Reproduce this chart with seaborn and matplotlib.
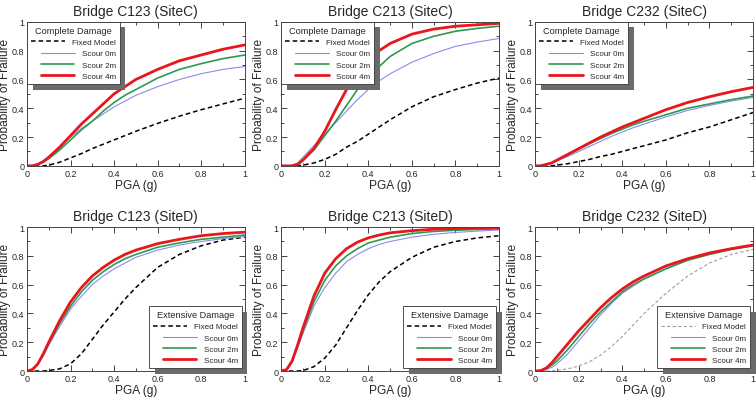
import numpy as np
import pandas as pd
import matplotlib
matplotlib.use("Agg")
import matplotlib.pyplot as plt
import matplotlib.patheffects as pe
from matplotlib.ticker import MultipleLocator, FuncFormatter
import seaborn as sns

pga = [0, 0.025, 0.05, 0.075, 0.1, 0.15, 0.2, 0.25, 0.3, 0.35, 0.4, 0.45, 0.5, 0.6, 0.7, 0.8, 0.9, 1.0]

# Bridge C123 (SiteC) - complete damage
c123_c_fixed = [0, 0, 0, 0, 0.005, 0.025, 0.055, 0.085, 0.12, 0.15, 0.18, 0.21, 0.24, 0.295, 0.345, 0.39, 0.43, 0.47]
c123_c_s0 = [0, 0, 0.015, 0.035, 0.06, 0.13, 0.2, 0.26, 0.31, 0.36, 0.41, 0.45, 0.49, 0.55, 0.60, 0.64, 0.67, 0.69]
c123_c_s2 = [0, 0, 0.01, 0.025, 0.05, 0.11, 0.18, 0.25, 0.31, 0.38, 0.44, 0.49, 0.53, 0.61, 0.67, 0.71, 0.745, 0.77]
c123_c_s4 = [0, 0, 0.01, 0.03, 0.06, 0.13, 0.21, 0.29, 0.36, 0.43, 0.50, 0.55, 0.60, 0.67, 0.73, 0.77, 0.81, 0.84]

# Bridge C213 (SiteC)
c213_c_fixed = [0, 0, 0, 0, 0.005, 0.02, 0.045, 0.08, 0.13, 0.17, 0.22, 0.27, 0.32, 0.41, 0.48, 0.53, 0.575, 0.61]
c213_c_s0 = [0, 0, 0.005, 0.02, 0.06, 0.14, 0.22, 0.30, 0.38, 0.46, 0.53, 0.59, 0.64, 0.72, 0.78, 0.83, 0.86, 0.885]
c213_c_s2 = [0, 0, 0, 0.01, 0.04, 0.11, 0.21, 0.31, 0.42, 0.53, 0.62, 0.69, 0.76, 0.85, 0.90, 0.935, 0.955, 0.97]
c213_c_s4 = [0, 0, 0, 0.01, 0.04, 0.12, 0.24, 0.39, 0.53, 0.64, 0.74, 0.80, 0.85, 0.915, 0.95, 0.97, 0.98, 0.99]

# Bridge C232 (SiteC)
c232_c_fixed = [0, 0, 0, 0, 0.005, 0.015, 0.03, 0.045, 0.065, 0.08, 0.10, 0.12, 0.14, 0.18, 0.23, 0.27, 0.32, 0.37]
c232_c_s0 = [0, 0, 0.01, 0.02, 0.035, 0.065, 0.10, 0.135, 0.17, 0.205, 0.235, 0.265, 0.29, 0.34, 0.385, 0.42, 0.45, 0.475]
c232_c_s2 = [0, 0, 0.01, 0.02, 0.04, 0.075, 0.115, 0.155, 0.19, 0.225, 0.255, 0.285, 0.31, 0.355, 0.40, 0.43, 0.46, 0.485]
c232_c_s4 = [0, 0, 0.01, 0.02, 0.04, 0.08, 0.12, 0.16, 0.2, 0.235, 0.27, 0.30, 0.33, 0.39, 0.44, 0.48, 0.515, 0.545]

# Bridge C123 (SiteD) - extensive damage
c123_d_fixed = [0, 0, 0, 0, 0.003, 0.015, 0.05, 0.12, 0.22, 0.32, 0.41, 0.50, 0.58, 0.72, 0.81, 0.87, 0.91, 0.93]
c123_d_s0 = [0, 0.01, 0.05, 0.11, 0.18, 0.31, 0.43, 0.52, 0.60, 0.66, 0.71, 0.75, 0.79, 0.84, 0.875, 0.90, 0.92, 0.935]
c123_d_s2 = [0, 0.01, 0.05, 0.11, 0.19, 0.33, 0.45, 0.55, 0.63, 0.69, 0.74, 0.78, 0.81, 0.86, 0.89, 0.915, 0.93, 0.945]
c123_d_s4 = [0, 0.01, 0.05, 0.12, 0.2, 0.35, 0.48, 0.58, 0.66, 0.72, 0.77, 0.81, 0.84, 0.885, 0.915, 0.94, 0.955, 0.965]

# Bridge C213 (SiteD)
c213_d_fixed = [0, 0, 0, 0, 0.003, 0.03, 0.09, 0.18, 0.30, 0.42, 0.53, 0.62, 0.69, 0.79, 0.86, 0.90, 0.925, 0.94]
c213_d_s0 = [0, 0.01, 0.06, 0.16, 0.26, 0.45, 0.58, 0.68, 0.76, 0.81, 0.85, 0.88, 0.90, 0.93, 0.95, 0.963, 0.972, 0.98]
c213_d_s2 = [0, 0.01, 0.07, 0.17, 0.28, 0.48, 0.63, 0.73, 0.80, 0.85, 0.89, 0.91, 0.93, 0.955, 0.97, 0.978, 0.984, 0.988]
c213_d_s4 = [0, 0.01, 0.07, 0.18, 0.30, 0.52, 0.68, 0.78, 0.85, 0.895, 0.925, 0.945, 0.96, 0.975, 0.985, 0.99, 0.993, 0.995]

# Bridge C232 (SiteD)
c232_d_fixed = [0, 0, 0, 0, 0.005, 0.015, 0.035, 0.065, 0.11, 0.17, 0.24, 0.32, 0.40, 0.54, 0.66, 0.75, 0.81, 0.845]
c232_d_s0 = [0, 0, 0.01, 0.025, 0.05, 0.12, 0.21, 0.30, 0.39, 0.47, 0.54, 0.59, 0.64, 0.71, 0.77, 0.815, 0.85, 0.88]
c232_d_s2 = [0, 0, 0.015, 0.04, 0.07, 0.15, 0.24, 0.33, 0.41, 0.48, 0.55, 0.60, 0.64, 0.71, 0.77, 0.81, 0.845, 0.87]
c232_d_s4 = [0, 0.003, 0.02, 0.055, 0.10, 0.19, 0.28, 0.36, 0.44, 0.51, 0.57, 0.62, 0.66, 0.73, 0.78, 0.82, 0.85, 0.875]

titles = ["Bridge C123 (SiteC)", "Bridge C213 (SiteC)", "Bridge C232 (SiteC)",
          "Bridge C123 (SiteD)", "Bridge C213 (SiteD)", "Bridge C232 (SiteD)"]
series_labels = ["Fixed Model", "Scour 0m", "Scour 2m", "Scour 4m"]

panels = [
    (c123_c_fixed, c123_c_s0, c123_c_s2, c123_c_s4),
    (c213_c_fixed, c213_c_s0, c213_c_s2, c213_c_s4),
    (c232_c_fixed, c232_c_s0, c232_c_s2, c232_c_s4),
    (c123_d_fixed, c123_d_s0, c123_d_s2, c123_d_s4),
    (c213_d_fixed, c213_d_s0, c213_d_s2, c213_d_s4),
    (c232_d_fixed, c232_d_s0, c232_d_s2, c232_d_s4),
]

sns.set_style("ticks")
plt.rcParams['font.family'] = ['Liberation Sans', 'DejaVu Sans']

fig = plt.figure(figsize=(7.56, 4.02), dpi=100)

lefts = [0.0357, 0.372, 0.708]
bottoms = [0.585, 0.0746]
w, h = 0.288, 0.358

styles = [
    dict(color="black", lw=1.1, ls=(0, (3, 2))),
    dict(color="#8a8af0", lw=0.8, ls="-"),
    dict(color="#2e9a4e", lw=1.2, ls="-"),
    dict(color="#e8161d", lw=2.0, ls="-"),
]

for i, (title, curves) in enumerate(zip(titles, panels)):
    row, col = divmod(i, 3)
    ax = fig.add_axes([lefts[col], bottoms[row], w, h])
    for k, (lab, vals) in enumerate(zip(series_labels, curves)):
        st = dict(styles[k])
        if i == 5 and k == 0:
            st.update(color="#a0a0a0", lw=0.8)
        df = pd.DataFrame({"PGA": pga, "P": vals})
        sns.lineplot(data=df, x="PGA", y="P", ax=ax, label=lab,
                     color=st["color"], linewidth=st["lw"], linestyle=st["ls"])
    ax.set_xlim(0, 1)
    ax.set_ylim(0, 1)
    ax.xaxis.set_major_locator(MultipleLocator(0.2))
    ax.yaxis.set_major_locator(MultipleLocator(0.2))
    ax.xaxis.set_minor_locator(MultipleLocator(0.1))
    ax.yaxis.set_minor_locator(MultipleLocator(0.1))
    fmt = FuncFormatter(lambda v, p: f"{v:g}")
    ax.xaxis.set_major_formatter(fmt)
    ax.yaxis.set_major_formatter(fmt)
    ax.tick_params(which="both", direction="in", top=True, right=True,
                   labelsize=6.5, width=0.6, pad=2)
    ax.tick_params(which="major", length=4)
    ax.tick_params(which="minor", length=2)
    for sp in ax.spines.values():
        sp.set_linewidth(0.7)
        sp.set_color("#444444")
    ax.set_title(title, fontsize=10, pad=5)
    ax.set_xlabel("PGA (g)", fontsize=8.6, labelpad=1)
    ax.set_ylabel("Probability of Frailure", fontsize=8.6, labelpad=0.5)

    leg_kw = dict(handlelength=4.2, handletextpad=0.9, labelspacing=0.45,
                  borderpad=0.5, title_fontsize=6.6, fontsize=5.8)
    if row == 0:
        leg = ax.legend(title="Complete Damage", loc="upper left", borderaxespad=0.0, **leg_kw)
    else:
        leg = ax.legend(title="Extensive Damage", loc="lower right", borderaxespad=0.35, **leg_kw)
    leg.set_zorder(5)
    fr = leg.get_frame()
    fr.set_edgecolor("#333333")
    fr.set_linewidth(0.6)
    fr.set_boxstyle("square", pad=0)
    fr.set_alpha(1)
    fr.set_path_effects([pe.SimplePatchShadow(offset=(4, -4), shadow_rgbFace="0.42", alpha=1),
                         pe.Normal()])
    # right-align the label column like the original legends
    for c in leg._legend_handle_box.get_children():
        c.align = "right"

fig.savefig("out.png", dpi=100)
